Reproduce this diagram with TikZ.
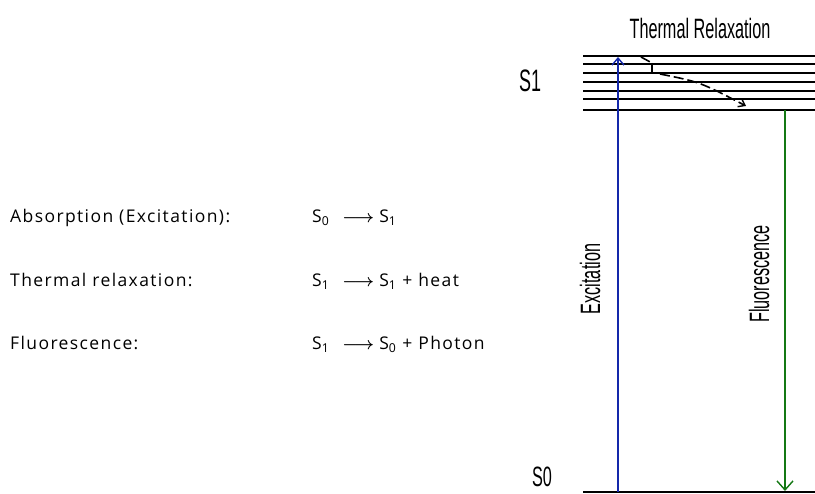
\documentclass[tikz,border=0pt]{standalone}
\usepackage{fontspec}
\setmainfont[LetterSpace=8]{Open Sans}
\newfontfamily\diag[FakeStretch=0.58]{Liberation Sans}
\usetikzlibrary{arrows.meta}
\tikzset{
  level/.style={line width=1.6pt, black},
  lbl/.style={font=\diag\fontsize{28}{28}\selectfont, inner sep=0pt},
  txt/.style={font=\fontsize{17.5}{17.5}\selectfont, anchor=base west, inner sep=0pt},
  excite/.style={line width=1.4pt, color={rgb,255:red,20;green,40;blue,170}, -{Straight Barb[length=7pt,width=12pt,line width=1.4pt]}},
  fluor/.style={line width=1.4pt, color={rgb,255:red,20;green,120;blue,20}, -{Straight Barb[length=9pt,width=16pt,line width=1.4pt]}},
  relax/.style={line width=1.6pt, black, dash pattern=on 10pt off 4pt},
}
\newcommand{\sub}[1]{\textsubscript{#1}}
\newcommand{\arr}{\hspace{13pt}$\boldsymbol{\longrightarrow}$\hspace{5pt}}
\usepackage{amsmath,amssymb}
\begin{document}
\begin{tikzpicture}[x=1pt,y=-1pt]
\useasboundingbox (0,0) rectangle (815,494);
% S1 vibrational levels
\foreach \yy in {56,64,73,82,91,99,110} {
  \draw[level] (583,\yy) -- (815,\yy);
}
% S0 level
\draw[level, line width=2.4pt] (583,492) -- (815,492);
% labels
\node[lbl, font=\diag\fontsize{31}{31}\selectfont] (s1) at (530,81) {S1};
\node[lbl, font=\diag\fontsize{28}{28}\selectfont] (s0) at (542,477) {S0};
\node[lbl] (tr) at (700,28) {Thermal Relaxation};
\node[lbl, rotate=90] (ex) at (590,279) {Excitation};
\node[lbl, rotate=90] (fl) at (759,274) {Fluorescence};
% arrow end points
\coordinate (exA) at (618,492);
\coordinate (exB) at (618,57);
\coordinate (flA) at (785,110);
\coordinate (flB) at (785,491);
\coordinate (t0) at (641,57);
\coordinate (t1) at (652,63);
\coordinate (t2) at (652,73);
\coordinate (t3) at (660,74);
\coordinate (t4) at (746,106);
\draw[excite] (exA) -- (exB);
\draw[fluor] (flA) -- (flB);
% thermal relaxation arrow
\draw[relax] (t0) -- (t1);
\draw[line width=1.6pt] (t1) -- (t2);
\draw[relax, -{Straight Barb[length=6pt,width=9pt,line width=1.4pt]}] (t3) .. controls (700,82) .. (t4);
% left equations
\node[txt] (a1) at (10,223) {Absorption (Excitation):};
\node[txt] (a2) at (10,287) {Thermal relaxation:};
\node[txt] (a3) at (10,350) {Fluorescence:};
\node[txt] (b1) at (312,223) {S\sub{0}\arr S\sub{1}};
\node[txt] (b2) at (312,287) {S\sub{1}\arr S\sub{1} + heat};
\node[txt] (b3) at (312,350) {S\sub{1}\arr S\sub{0} + Photon};
\end{tikzpicture}
\end{document}
